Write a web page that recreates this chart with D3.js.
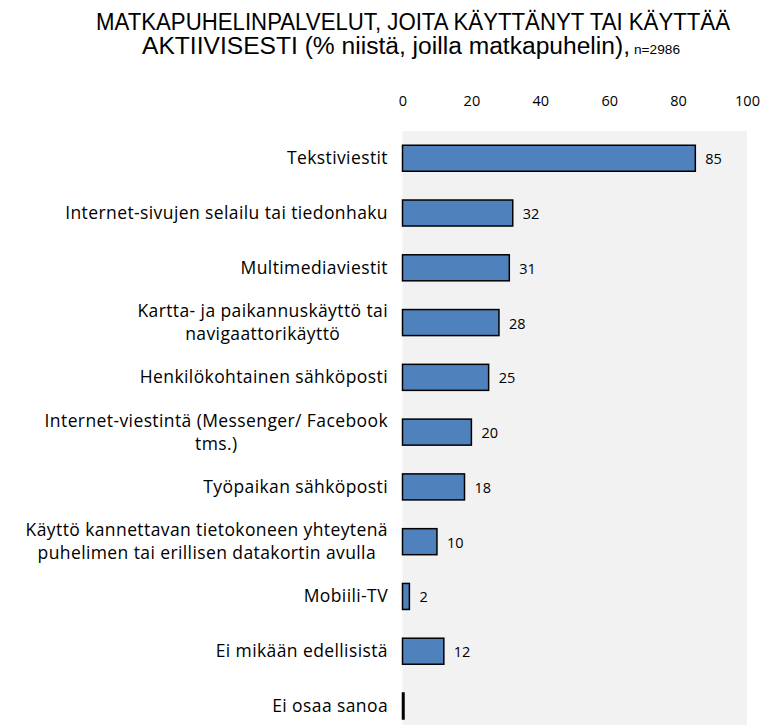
<!DOCTYPE html>
<html>
<head>
<meta charset="utf-8">
<script src="https://cdn.jsdelivr.net/npm/d3@7"></script>
<style>
  body { margin: 0; background: #fff; }
  .cat, .val, .tick text { font-family: 'Open Sans', Lato, sans-serif; fill: #000; }
  .title { font-family: 'Liberation Sans', Arial, sans-serif; fill: #000; }
</style>
</head>
<body>
<script>
// Categories (each entry is one or two label lines)
var categories = [
  ['Tekstiviestit'],
  ['Internet-sivujen selailu tai tiedonhaku'],
  ['Multimediaviestit'],
  ['Kartta- ja paikannuskäyttö tai', 'navigaattorikäyttö'],
  ['Henkilökohtainen sähköposti'],
  ['Internet-viestintä (Messenger/ Facebook', 'tms.)'],
  ['Työpaikan sähköposti'],
  ['Käyttö kannettavan tietokoneen yhteytenä', 'puhelimen tai erillisen datakortin avulla'],
  ['Mobiili-TV'],
  ['Ei mikään edellisistä'],
  ['Ei osaa sanoa']
]
var values = [85, 32, 31, 28, 25, 20, 18, 10, 2, 12, 0]
var ticks = [0, 20, 40, 60, 80, 100]

var width = 764, height = 725

var svg = d3.select('body').append('svg')
  .attr('width', width)
  .attr('height', height)

// Title, line 1 (squeezed to look like the narrow original font)
svg.append('text')
  .classed('title', true)
  .attr('x', 96).attr('y', 30)
  .attr('textLength', 634)
  .attr('lengthAdjust', 'spacingAndGlyphs')
  .style('font-size', '23px')
  .text('MATKAPUHELINPALVELUT, JOITA KÄYTTÄNYT TAI KÄYTTÄÄ')

// Title, line 2 (main part + small sample size)
svg.append('text')
  .classed('title', true)
  .attr('x', 142).attr('y', 54)
  .attr('textLength', 488)
  .attr('lengthAdjust', 'spacingAndGlyphs')
  .style('font-size', '23px')
  .text('AKTIIVISESTI (% niistä, joilla matkapuhelin),')
svg.append('text')
  .classed('title', true)
  .attr('x', 634).attr('y', 54)
  .attr('textLength', 46)
  .attr('lengthAdjust', 'spacingAndGlyphs')
  .style('font-size', '13px')
  .text('n=2986')

// Scales
var x = d3.scaleLinear().domain([0, 100]).range([402.5, 747])
var y = d3.scaleBand()
  .domain(d3.range(categories.length))
  .range([131, 131 + 54.75 * categories.length])
  .paddingInner(0.525)
  .paddingOuter(0.26)

// Plot background
svg.append('rect')
  .attr('x', x(0))
  .attr('y', 131)
  .attr('width', x(100) - x(0))
  .attr('height', height - 131)
  .attr('fill', '#f2f2f2')

// Top axis (labels only)
var axis = d3.axisTop(x).tickValues(ticks).tickSize(0).tickPadding(0)
var ax = svg.append('g')
  .attr('transform', 'translate(0,' + 106 + ')')
  .call(axis)
ax.select('.domain').remove()
ax.selectAll('text')
  .style('font-size', '14.5px')
  .style('font-family', "'Open Sans', sans-serif")

// Bars (zero values still show as a thin outline)
svg.append('g').selectAll('rect')
  .data(values)
  .join('rect')
  .attr('x', x(0))
  .attr('y', (d, i) => y(i))
  .attr('width', d => Math.max(x(d) - x(0), 1.5))
  .attr('height', y.bandwidth())
  .attr('fill', '#4f81bd')
  .attr('stroke', '#000')
  .attr('stroke-width', 1.5)

// Value labels
svg.append('g').selectAll('text')
  .data(values.map((v, i) => ({v, i})).filter(d => d.v > 0))
  .join('text')
  .classed('val', true)
  .attr('x', d => x(d.v) + 10)
  .attr('y', d => y(d.i) + y.bandwidth() / 2 + 6)
  .style('font-size', '14.5px')
  .text(d => d.v)

// Category labels, wrapped lines centered within a right-aligned block
var right = 388, lh = 23
categories.forEach(function(lines, i) {
  var cy = y(i) + y.bandwidth() / 2
  var g = svg.append('g')
  var texts = lines.map(function(line, j) {
    return g.append('text')
      .classed('cat', true)
      .style('font-size', '17.5px')
      .style('letter-spacing', '0.4px')
      .attr('y', cy + 6 + (j - (lines.length - 1) / 2) * lh)
      .attr('text-anchor', 'middle')
      .text(line)
  })
  var w = d3.max(texts, t => t.node().getComputedTextLength())
  texts.forEach(t => t.attr('x', right - w / 2))
})
</script>
</body>
</html>
